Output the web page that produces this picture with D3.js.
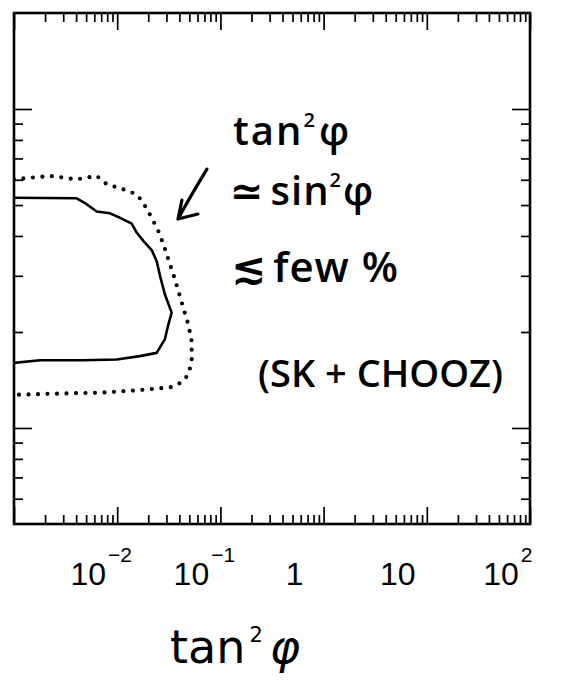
<!DOCTYPE html>
<html>
<head>
<meta charset="utf-8">
<script src="https://cdn.jsdelivr.net/npm/d3@7"></script>
<style>
  html, body { margin: 0; padding: 0; background: #fff; }
  svg { display: block; }
</style>
</head>
<body>
<svg id="chart" width="575" height="687"></svg>
<script>
// Allowed region (SK + CHOOZ) in the (tan²φ, Δm²) plane; Δm² in eV².
// Solid: 90% C.L. contour; dotted: 99% C.L. contour.
const solidTan2 = [1.0e-3, 4.05e-3, 5.06e-3, 6.33e-3, 8.52e-3, 1.064e-2, 1.382e-2, 1.545e-2, 1.79e-2, 2.16e-2, 2.41e-2,
                   2.60e-2, 2.90e-2, 3.37e-2, 3.13e-2, 2.90e-2, 2.41e-2, 1.66e-2, 9.89e-3, 4.69e-3, 1.79e-3, 1.0e-3];
const solidDm2  = [5.27e-3, 5.25e-3, 5.03e-3, 4.77e-3, 4.71e-3, 4.56e-3, 4.37e-3, 4.10e-3, 3.86e-3, 3.61e-3, 3.34e-3,
                   3.00e-3, 2.62e-3, 2.30e-3, 2.11e-3, 1.90e-3, 1.72e-3, 1.68e-3, 1.64e-3, 1.63e-3, 1.63e-3, 1.60e-3];

const dottedTan2 = [1.0e-3, 2.23e-3, 4.05e-3, 6.33e-3, 7.91e-3, 1.146e-2, 1.545e-2, 1.79e-2, 2.16e-2, 2.50e-2, 2.80e-2,
                    3.13e-2, 3.50e-2, 3.91e-2, 4.37e-2, 4.89e-2, 5.27e-2, 5.27e-2, 4.89e-2, 4.22e-2, 3.25e-2, 1.43e-2,
                    6.81e-3, 2.23e-3, 1.0e-3];
const dottedDm2  = [6.02e-3, 6.17e-3, 6.02e-3, 6.17e-3, 5.81e-3, 5.60e-3, 5.40e-3, 5.08e-3, 4.56e-3, 4.15e-3, 3.77e-3,
                    3.38e-3, 3.03e-3, 2.69e-3, 2.38e-3, 2.11e-3, 1.87e-3, 1.62e-3, 1.47e-3, 1.39e-3, 1.34e-3, 1.31e-3,
                    1.29e-3, 1.28e-3, 1.27e-3];

// Axis ranges and labelled ticks
const xDomain = [1e-3, 1e2];
const yDomain = [5e-4, 2e-2];
const xLabelValues = [1e-2, 1e-1, 1, 10, 100];
const xLabelBase   = ["10", "10", "1", "10", "10"];
const xLabelExp    = ["\u22122", "\u22121", "", "", "2"];

// Hand-written note beside the contours
const noteArrowFrom = [7.41e-2, 6.48e-3];
const noteArrowTo   = [3.88e-2, 4.52e-3];

const svg = d3.select("#chart");
const margin = { top: 13, right: 45, bottom: 163, left: 14 };
const W = 575 - margin.left - margin.right;
const H = 687 - margin.top - margin.bottom;

const x = d3.scaleLog().domain(xDomain).range([0, W]);
const y = d3.scaleLog().domain(yDomain).range([H, 0]);

const g = svg.append("g").attr("transform", `translate(${margin.left},${margin.top})`);

svg.append("defs").append("clipPath").attr("id", "plotClip")
  .append("rect").attr("x", 0).attr("y", 0).attr("width", W).attr("height", H);

// Tick sets
const isPow10 = v => Math.abs(Math.log10(v) - Math.round(Math.log10(v))) < 1e-9;
const xAll = x.ticks();
const xMajor = xAll.filter(isPow10);
const xMinor = xAll.filter(v => !isPow10(v));
const yAll = y.ticks();
const yMajor = yAll.filter(isPow10);
const yMinor = yAll.filter(v => !isPow10(v) && v > yDomain[0] * 1.0001 && v < yDomain[1] * 0.9999);

function styleAxis(sel, width) {
  sel.select(".domain").remove();
  sel.selectAll(".tick line").attr("stroke", "#000").attr("stroke-width", width);
  sel.selectAll(".tick text").remove();
}

const majorLen = 17, minorLen = 9;
// bottom / top
g.append("g").attr("transform", `translate(0,${H})`)
  .call(d3.axisBottom(x).tickValues(xMajor).tickSize(-majorLen).tickFormat(""))
  .call(styleAxis, 1.7);
g.append("g").attr("transform", `translate(0,${H})`)
  .call(d3.axisBottom(x).tickValues(xMinor).tickSize(-minorLen).tickFormat(""))
  .call(styleAxis, 1.7);
g.append("g")
  .call(d3.axisTop(x).tickValues(xMajor).tickSize(-majorLen).tickFormat(""))
  .call(styleAxis, 1.7);
g.append("g")
  .call(d3.axisTop(x).tickValues(xMinor).tickSize(-minorLen).tickFormat(""))
  .call(styleAxis, 1.7);
// left / right
g.append("g")
  .call(d3.axisLeft(y).tickValues(yMajor).tickSize(-18).tickFormat(""))
  .call(styleAxis, 1.7);
g.append("g")
  .call(d3.axisLeft(y).tickValues(yMinor).tickSize(-minorLen).tickFormat(""))
  .call(styleAxis, 1.7);
g.append("g").attr("transform", `translate(${W},0)`)
  .call(d3.axisRight(y).tickValues(yMajor).tickSize(-18).tickFormat(""))
  .call(styleAxis, 1.7);
g.append("g").attr("transform", `translate(${W},0)`)
  .call(d3.axisRight(y).tickValues(yMinor).tickSize(-minorLen).tickFormat(""))
  .call(styleAxis, 1.7);

// Frame
g.append("rect").attr("x", 0).attr("y", 0).attr("width", W).attr("height", H)
  .attr("fill", "none").attr("stroke", "#000").attr("stroke-width", 2.6);

// Contours
const line = d3.line().x(d => x(d[0])).y(d => y(d[1]));
const solid = solidTan2.map((t, i) => [t, solidDm2[i]]);
const dotted = dottedTan2.map((t, i) => [t, dottedDm2[i]]);

const curves = g.append("g").attr("clip-path", "url(#plotClip)");
curves.append("path").datum(solid).attr("d", line)
  .attr("fill", "none").attr("stroke", "#000").attr("stroke-width", 2.6)
  .attr("stroke-linejoin", "round");
curves.append("path").datum(dotted).attr("d", line)
  .attr("fill", "none").attr("stroke", "#000").attr("stroke-width", 4.2)
  .attr("stroke-linecap", "round").attr("stroke-dasharray", "0 9.5");

// Tick labels below the axis
const labelFont = "'Liberation Sans', Arial, sans-serif";
const labels = svg.append("g").attr("font-family", labelFont).attr("fill", "#000");
xLabelValues.forEach((v, i) => {
  const cx = margin.left + x(v) - 29;
  const base = labels.append("text")
    .attr("x", cx).attr("y", 585)
    .attr("text-anchor", "middle")
    .attr("font-size", 32)
    .text(xLabelBase[i]);
  if (xLabelExp[i]) {
    const bw = base.node().getComputedTextLength();
    labels.append("text")
      .attr("x", cx + bw / 2 + 2).attr("y", 562)
      .attr("font-size", 21)
      .text(xLabelExp[i]);
  }
});

// Axis title
const title = svg.append("text")
  .attr("x", 170).attr("y", 663)
  .attr("font-family", "'DejaVu Sans', sans-serif")
  .attr("font-size", 46).attr("fill", "#000");
title.append("tspan").text("tan");
title.append("tspan").attr("dx", 4).attr("dy", -21).attr("font-size", 21).text("2");
title.append("tspan").attr("dx", 7).attr("dy", 21).attr("font-style", "italic").text("\u03c6");

// Note: text and arrow
const note = svg.append("g")
  .attr("font-family", "'Open Sans', 'DejaVu Sans', sans-serif")
  .attr("font-weight", 600).attr("fill", "#000");

const l1 = note.append("text").attr("x", 233).attr("y", 145).attr("font-size", 40).attr("letter-spacing", 2);
l1.append("tspan").text("tan");
l1.append("tspan").attr("dy", -18).attr("font-size", 20).text("2");
l1.append("tspan").attr("dy", 18).attr("dx", 2).text("\u03c6");

const l2 = note.append("text").attr("x", 230).attr("y", 205).attr("font-size", 40).attr("letter-spacing", 1);
l2.append("tspan").attr("font-family", "'DejaVu Sans', sans-serif").attr("font-weight", "bold").text("\u2243");
l2.append("tspan").attr("dx", 6).text("sin");
l2.append("tspan").attr("dy", -18).attr("font-size", 20).text("2");
l2.append("tspan").attr("dy", 18).attr("dx", 1).text("\u03c6");

const l3 = note.append("text").attr("x", 231).attr("y", 282).attr("font-size", 42).attr("letter-spacing", 1);
l3.append("tspan").attr("font-family", "'DejaVu Sans', sans-serif").attr("font-weight", "bold").text("\u2272");
l3.append("tspan").attr("dx", 6).text("few %");

note.append("text").attr("x", 258).attr("y", 387).attr("font-size", 38)
  .text("(SK + CHOOZ)");

const ax0 = x(noteArrowFrom[0]) + margin.left, ay0 = y(noteArrowFrom[1]) + margin.top;
const ax1 = x(noteArrowTo[0]) + margin.left, ay1 = y(noteArrowTo[1]) + margin.top;
svg.append("path")
  .attr("d", `M${ax0},${ay0} Q${(ax0 + ax1) / 2 - 2},${(ay0 + ay1) / 2 + 2} ${ax1},${ay1}
              M${ax1 + 4},${ay1 - 19} L${ax1},${ay1} L${ax1 + 20},${ay1 - 5}`)
  .attr("fill", "none").attr("stroke", "#000").attr("stroke-width", 3.2)
  .attr("stroke-linecap", "round").attr("stroke-linejoin", "round");
</script>
</body>
</html>
